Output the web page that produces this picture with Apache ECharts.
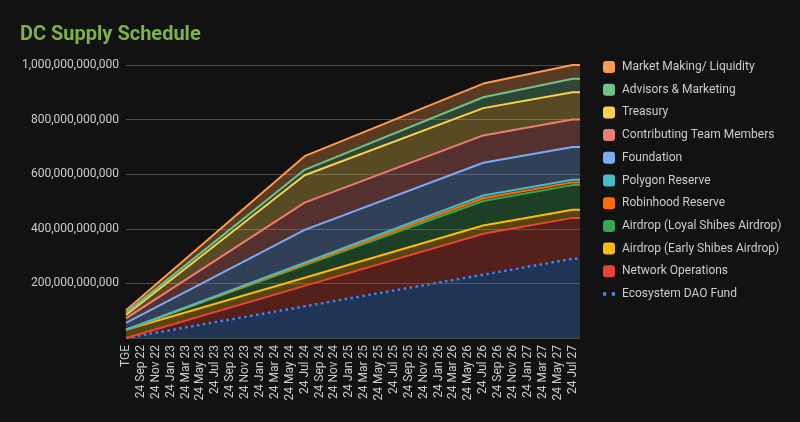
<!DOCTYPE html>
<html>
<head>
<meta charset="utf-8">
<script src="https://cdn.jsdelivr.net/npm/echarts@6/dist/echarts.min.js"></script>
<style>
html,body{margin:0;padding:0;background:#121212;}
#chart{width:800px;height:422px;}
</style>
</head>
<body>
<div id="chart"></div>
<script>
// Category labels (one per month, every other label shown)
const categories = [
  'TGE','24 Aug 22','24 Sep 22','24 Oct 22','24 Nov 22','24 Dec 22',
  '24 Jan 23','24 Feb 23','24 Mar 23','24 Apr 23','24 May 23','24 Jun 23','24 Jul 23','24 Aug 23','24 Sep 23','24 Oct 23','24 Nov 23','24 Dec 23',
  '24 Jan 24','24 Feb 24','24 Mar 24','24 Apr 24','24 May 24','24 Jun 24','24 Jul 24','24 Aug 24','24 Sep 24','24 Oct 24','24 Nov 24','24 Dec 24',
  '24 Jan 25','24 Feb 25','24 Mar 25','24 Apr 25','24 May 25','24 Jun 25','24 Jul 25','24 Aug 25','24 Sep 25','24 Oct 25','24 Nov 25','24 Dec 25',
  '24 Jan 26','24 Feb 26','24 Mar 26','24 Apr 26','24 May 26','24 Jun 26','24 Jul 26','24 Aug 26','24 Sep 26','24 Oct 26','24 Nov 26','24 Dec 26',
  '24 Jan 27','24 Feb 27','24 Mar 27','24 Apr 27','24 May 27','24 Jun 27','24 Jul 27','24 Aug 27'
];

// Schedule break points (dates where the vesting slopes change)
const keyDates = ['TGE', '24 Jul 24', '24 Jul 26', '24 Jul 27', '24 Aug 27'];

// Unlocked amount per allocation at each break point (billions of DC)
const ecosystemDAO   = [0, 116, 232, 290, 290];
const networkOps     = [0, 75, 150, 150, 150];
const airdropEarly   = [30, 30, 30, 30, 30];
const airdropLoyal   = [0, 45, 90, 90, 90];
const robinhood      = [0, 5, 10, 10, 10];
const polygon        = [0, 5, 10, 10, 10];
const foundation     = [25, 120, 120, 120, 120];
const teamMembers    = [17, 100, 100, 100, 100];
const treasury       = [12, 100, 100, 100, 100];
const advisors       = [8, 20, 40, 50, 50];
const marketMaking   = [10, 50, 50, 50, 50];

const yTicks = [0, 200e9, 400e9, 600e9, 800e9, 1000e9];

const seriesDefs = [
  {name: 'Ecosystem DAO Fund', values: ecosystemDAO, color: '#4285f4', dotted: true},
  {name: 'Network Operations', values: networkOps, color: '#ea4335'},
  {name: 'Airdrop (Early Shibes Airdrop)', values: airdropEarly, color: '#fbbc04'},
  {name: 'Airdrop (Loyal Shibes Airdrop)', values: airdropLoyal, color: '#34a853'},
  {name: 'Robinhood Reserve', values: robinhood, color: '#ff6d01'},
  {name: 'Polygon Reserve', values: polygon, color: '#46bdc6'},
  {name: 'Foundation', values: foundation, color: '#7baaf7'},
  {name: 'Contributing Team Members', values: teamMembers, color: '#f07b72'},
  {name: 'Treasury', values: treasury, color: '#fcd04f'},
  {name: 'Advisors & Marketing', values: advisors, color: '#71c287'},
  {name: 'Market Making/ Liquidity', values: marketMaking, color: '#ff994d'}
];

// [category, amount] pairs at the break points
function buildData(values) {
  return keyDates.map((d, i) => [d, values[i] * 1e9]);
}

const FONT = 'Roboto, "Noto Sans", Arial, sans-serif';

const series = seriesDefs.map(s => ({
  name: s.name,
  type: 'line',
  stack: 'total',
  data: buildData(s.values),
  showSymbol: false,
  symbol: 'none',
  color: s.color,
  lineStyle: s.dotted ? {width: 2.5, type: [2.5, 3.5], cap: 'butt', color: s.color}
                      : {width: 2, color: s.color},
  areaStyle: {color: s.color, opacity: 0.3},
  emphasis: {disabled: true}
}));

const legendData = seriesDefs.slice().reverse().map(s => ({
  name: s.name,
  icon: s.dotted ? 'path://M0,0h3v3h-3zM8,0h3v3h-3z' : 'roundRect'
}));

const chart = echarts.init(document.getElementById('chart'), null, {renderer: 'canvas'});
chart.setOption({
  backgroundColor: '#121212',
  animation: false,
  textStyle: {fontFamily: FONT},
  title: {
    text: 'DC Supply Schedule',
    left: 15, top: 20,
    textStyle: {color: '#7cb342', fontSize: 20, fontWeight: 'bold', fontFamily: FONT}
  },
  legend: {
    orient: 'vertical',
    left: 598, top: 56,
    itemWidth: 12, itemHeight: 12, itemGap: 10.7,
    data: legendData,
    textStyle: {color: '#cccccc', fontSize: 12, fontFamily: FONT, padding: [0, 0, 0, 2]}
  },
  grid: {left: 126, right: 220, top: 65, bottom: 84, containLabel: false},
  xAxis: {
    type: 'category',
    data: categories,
    boundaryGap: false,
    axisLine: {show: false},
    axisTick: {show: false},
    splitLine: {show: false},
    axisLabel: {rotate: 90, interval: 1, color: '#cccccc', fontSize: 12, margin: 7, fontFamily: FONT}
  },
  yAxis: {
    type: 'value',
    min: yTicks[0], max: yTicks[yTicks.length - 1], interval: yTicks[1] - yTicks[0],
    axisLine: {show: false},
    axisTick: {show: false},
    splitLine: {lineStyle: {color: '#4a4a4a', width: 1}},
    axisLabel: {
      color: '#cccccc', fontSize: 12, margin: 7, fontFamily: FONT,
      showMinLabel: false,
      formatter: v => v === 0 ? '' : v.toLocaleString('en-US')
    }
  },
  series: series
});
</script>
</body>
</html>
